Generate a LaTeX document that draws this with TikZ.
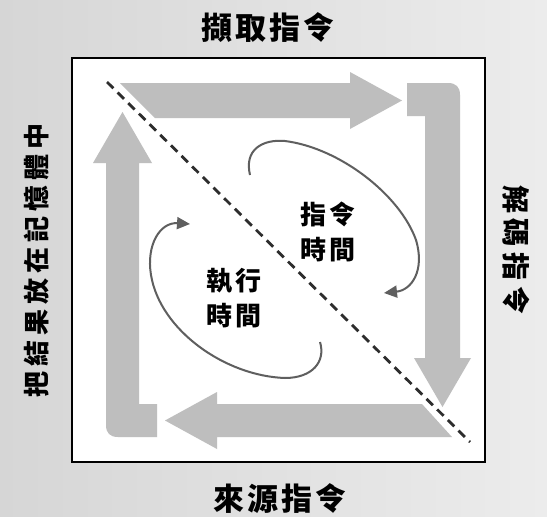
\documentclass[tikz,border=0pt]{standalone}
\usepackage{fontspec}
\newfontfamily\cjk{Noto Sans CJK TC}
\usetikzlibrary{arrows.meta}
\definecolor{bandgray}{RGB}{190,190,190}
\definecolor{curvegray}{RGB}{95,95,95}
\definecolor{dashgray}{RGB}{45,45,45}
\definecolor{bgA}{RGB}{214,214,214}
\definecolor{bgB}{RGB}{236,236,236}
\begin{document}
\begin{tikzpicture}[x=1pt,y=-1pt,
  band/.style={fill=bandgray},
  txt/.style={font=\cjk\bfseries, inner sep=0pt, text=black},
  cyc/.style={draw=curvegray, line width=2pt, -{Triangle[length=13pt,width=12pt]}},
  divider/.style={draw=dashgray, line width=2.8pt, dash pattern=on 9pt off 6pt}]
\useasboundingbox (0,0) rectangle (547,517);
\shade[left color=bgA, right color=bgB] (0,0) rectangle (547,517);
% frame
\node[draw=black, line width=1.8pt, fill=white, minimum width=413pt, minimum height=404pt, inner sep=0pt] (frame) at (278.5,260) {};
% top arrow (pointing right)
\fill[band] (120,83) -- (350,83) -- (350,72) -- (402,100.5) -- (350,129) -- (350,118) -- (155,118) -- cycle;
% right piece (bend + arrow pointing down)
\fill[band] (407,84) .. controls (407,83) .. (409,83) -- (448,83) .. controls (456,83) and (460,87) .. (460,95)
  -- (460,358) -- (471,358) -- (442.5,407) -- (414,358) -- (425,358) -- (425,116) -- (407,116) -- cycle;
% bottom arrow (pointing left)
\fill[band] (422,404) -- (217,404) -- (217,392) -- (165,420.5) -- (217,449) -- (217,437) -- (452,437) -- cycle;
% left piece (bend + arrow pointing up)
\fill[band] (157,404) -- (139,404) -- (139,163) -- (152,163) -- (122.5,112) -- (93,163) -- (106,163)
  -- (106,425) .. controls (106,433) and (110,437) .. (118,437) -- (157,437) -- cycle;
% dashed divider
\coordinate (d1) at (107,82);
\coordinate (d2) at (470,442);
\draw[divider] (d1) -- (d2);
% cycle curves
\coordinate (c1s) at (250,175);
\coordinate (c1e) at (384,293);
\draw[cyc] (c1s) .. controls (244,150) and (262,139) .. (285,141)
  .. controls (340,148) and (400,195) .. (416,240)
  .. controls (425,270) and (412,290) .. (c1e);
\coordinate (c2s) at (320,342);
\coordinate (c2e) at (190,224);
\draw[cyc] (c2s) .. controls (326,362) and (312,378) .. (285,378)
  .. controls (225,376) and (160,330) .. (151,275)
  .. controls (146,245) and (160,222) .. (c2e);
% labels
\node[txt, font=\cjk\bfseries\fontsize{31}{31}\selectfont] (fetch) at (268,28) {擷\hspace{3pt}取\hspace{3pt}指\hspace{3pt}令};
\node[txt, font=\cjk\bfseries\fontsize{31}{31}\selectfont] (source) at (280,499) {來\hspace{3pt}源\hspace{3pt}指\hspace{3pt}令};
\node[txt, rotate=90, font=\cjk\bfseries\fontsize{26}{26}\selectfont] (store) at (37,260) {把\hspace{5pt}結\hspace{5pt}果\hspace{5pt}放\hspace{5pt}在\hspace{5pt}記\hspace{5pt}憶\hspace{5pt}體\hspace{5pt}中};
\node[txt, rotate=-90, font=\cjk\bfseries\fontsize{28}{28}\selectfont] (decode) at (516,250) {解\hspace{6pt}碼\hspace{6pt}指\hspace{6pt}令};
\node[txt, align=center, font=\cjk\bfseries\fontsize{26}{35}\selectfont] (itime) at (328,232) {指\hspace{4pt}令\\時\hspace{4pt}間};
\node[txt, align=center, font=\cjk\bfseries\fontsize{26}{35}\selectfont] (etime) at (234,298) {執\hspace{4pt}行\\時\hspace{4pt}間};
\end{tikzpicture}
\end{document}
